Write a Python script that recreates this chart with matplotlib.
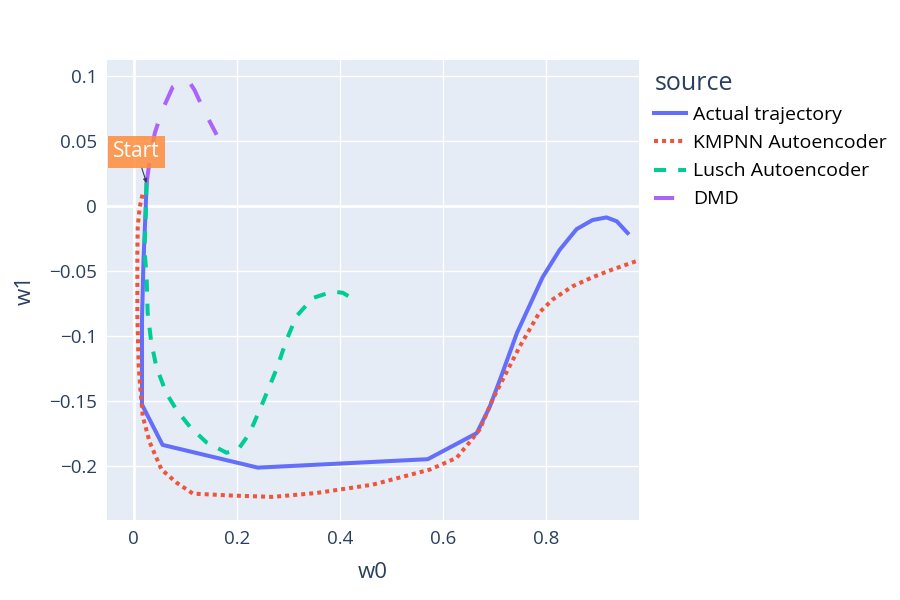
import matplotlib
matplotlib.use('Agg')
import matplotlib.pyplot as plt

plt.rcParams['font.family'] = ['Open Sans', 'DejaVu Sans']

# values
actual_x = [0.025, 0.023, 0.019, 0.016, 0.016, 0.056, 0.241, 0.571, 0.666, 0.691, 0.711, 0.744,
            0.794, 0.827, 0.860, 0.891, 0.918, 0.938, 0.959]
actual_y = [0.0175, -0.004, -0.042, -0.088, -0.153, -0.184, -0.2015, -0.195, -0.175, -0.155, -0.134,
            -0.098, -0.055, -0.034, -0.018, -0.011, -0.009, -0.012, -0.021]

kmpnn_x = [0.017, 0.0117, 0.0078, 0.007, 0.007, 0.0097, 0.013, 0.0175, 0.031, 0.054, 0.083, 0.115,
           0.192, 0.27, 0.355, 0.464, 0.575, 0.627, 0.652, 0.672, 0.697, 0.724, 0.75, 0.788,
           0.814, 0.852, 0.891, 0.930, 0.995]
kmpnn_y = [0.0085, -0.0008, -0.016, -0.036, -0.085, -0.124, -0.1415, -0.162, -0.182, -0.203, -0.213,
           -0.2215, -0.223, -0.224, -0.221, -0.2146, -0.203, -0.194, -0.182, -0.172, -0.149, -0.128,
           -0.108, -0.082, -0.072, -0.062, -0.055, -0.049, -0.040]

lusch_x = [0.025, 0.023, 0.021, 0.025, 0.027, 0.034, 0.044, 0.063, 0.083, 0.109, 0.141, 0.18, 0.202,
           0.225, 0.25, 0.277, 0.297, 0.316, 0.348, 0.386, 0.406, 0.423]
lusch_y = [0.0175, -0.011, -0.034, -0.055, -0.082, -0.105, -0.124, -0.144, -0.157, -0.170, -0.182,
           -0.19, -0.188, -0.175, -0.152, -0.126, -0.103, -0.085, -0.071, -0.066, -0.067, -0.071]

dmd_x = [0.025, 0.031, 0.041, 0.056, 0.076, 0.095, 0.109, 0.118, 0.138, 0.161]
dmd_y = [0.0175, 0.035, 0.056, 0.074, 0.0915, 0.096, 0.0946, 0.089, 0.072, 0.0546]

x_ticks = [0, 0.2, 0.4, 0.6, 0.8]
x_labels = ['0', '0.2', '0.4', '0.6', '0.8']
y_ticks = [0.1, 0.05, 0, -0.05, -0.1, -0.15, -0.2]
y_labels = ['0.1', '0.05', '0', '\u22120.05', '\u22120.1', '\u22120.15', '\u22120.2']

txt = '#2a3f5f'
fig = plt.figure(figsize=(9, 6), dpi=100)
ax = fig.add_axes([0.1186, 0.1333, 0.5911, 0.7667])
ax.set_facecolor('#E5ECF6')
for s in ax.spines.values():
    s.set_visible(False)

lw = 2.9
ax.plot(actual_x, actual_y, color='#636efa', lw=lw, label='Actual trajectory', zorder=3)
ax.plot(kmpnn_x, kmpnn_y, color='#EF553B', lw=lw, ls=(0, (1, 1)), label='KMPNN Autoencoder', zorder=3)
ax.plot(lusch_x, lusch_y, color='#00cc96', lw=lw, ls=(0, (3, 3)), label='Lusch Autoencoder', zorder=3)
ax.plot(dmd_x, dmd_y, color='#ab63fa', lw=lw, ls=(0, (5, 5)), label='DMD', zorder=3)

ax.set_xlim(-0.0524, 0.9806)
ax.set_ylim(-0.2418, 0.1121)
ax.set_xticks(x_ticks)
ax.set_xticklabels(x_labels)
ax.set_yticks(y_ticks)
ax.set_yticklabels(y_labels)
ax.tick_params(length=0, labelsize=13.5, labelcolor=txt, pad=7)
ax.grid(True, color='white', lw=1)
ax.axhline(0, color='white', lw=2, zorder=1)
ax.axvline(0, color='white', lw=2, zorder=1)
ax.set_axisbelow(True)
ax.set_xlabel('w0', fontsize=16, color=txt, labelpad=10)
ax.set_ylabel('w1', fontsize=16, color=txt, labelpad=10)

ax.annotate('Start', xy=(actual_x[0], actual_y[0]), xytext=(-10, 31), textcoords='offset pixels',
            ha='center', va='center', fontsize=15, color='white', zorder=5,
            bbox=dict(boxstyle='square,pad=0.25', fc='#FF8C3A', ec='none', alpha=0.85),
            arrowprops=dict(arrowstyle='-|>', color=txt, lw=0.8, mutation_scale=6, shrinkA=0, shrinkB=0))

leg = ax.legend(loc='upper left', bbox_to_anchor=(1.015, 0.993), frameon=False, fontsize=14,
                title='source', title_fontsize=18, handlelength=1.6, handletextpad=0.4,
                labelspacing=0.52, alignment='left', borderaxespad=0)
for t in leg.get_texts():
    t.set_color('black')
leg.get_title().set_color(txt)

fig.savefig('out.png', dpi=100)
